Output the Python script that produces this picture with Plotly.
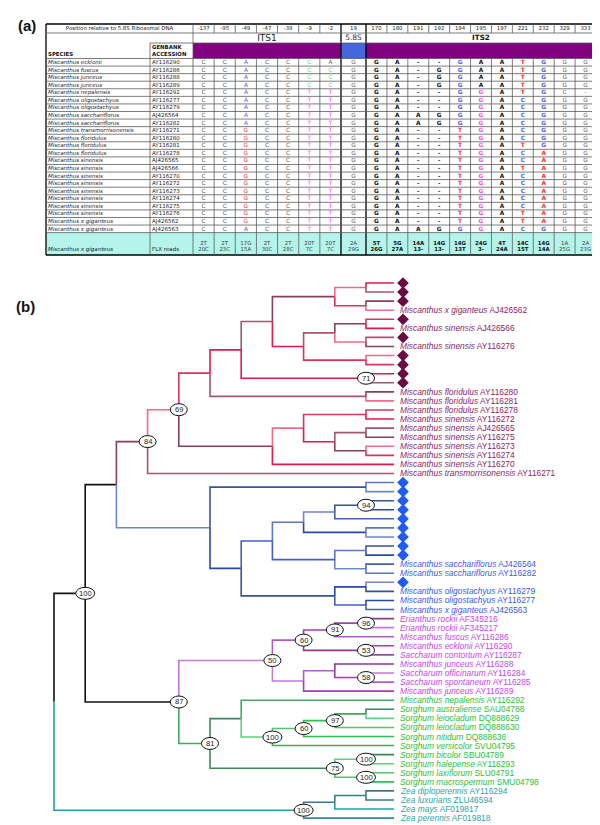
import plotly.graph_objects as go

# ================= Panel (a): table data =================
positions = ["-137", "-95", "-49", "-47", "-39", "-9", "-2", "19",
             "170", "180", "191", "192", "194", "195", "197", "221", "232", "329", "333"]
region_names = ["ITS1", "5.8S", "ITS2"]
region_ncols = [7, 1, 11]
species = ["Miscanthus ecklonii", "Miscanthus fuscus", "Miscanthus junceus", "Miscanthus junceus",
           "Miscanthus nepalensis", "Miscanthus oligostachyus", "Miscanthus oligostachyus",
           "Miscanthus sacchariflorus", "Miscanthus sacchariflorus", "Miscanthus transmorrisonensis",
           "Miscanthus floridulus", "Miscanthus floridulus", "Miscanthus floridulus",
           "Miscanthus sinensis", "Miscanthus sinensis", "Miscanthus sinensis", "Miscanthus sinensis",
           "Miscanthus sinensis", "Miscanthus sinensis", "Miscanthus sinensis", "Miscanthus sinensis",
           "Miscanthus x giganteus", "Miscanthus x giganteus"]
accessions = ["AY116290", "AY116286", "AY116288", "AY116289", "AY116292", "AY116277", "AY116279",
              "AJ426564", "AY116282", "AY116271", "AY116280", "AY116281", "AY116278", "AJ426565",
              "AJ426566", "AY116270", "AY116272", "AY116273", "AY116274", "AY116275", "AY116276",
              "AJ426562", "AJ426563"]
bases = ["CCACCCAGGA--GAATGGG",
         "CCACCCCGGA-GGAATGGG",
         "CCACCCCGGA-GGAATGGG",
         "CCACCCCGGA-GGAATGGG",
         "CCACCTTGGA--GGATGC-",
         "CCACCTTGGA--GGACGGG",
         "CCACCTTGGA--GGACGGG",
         "CCACCTTGGAAGGGACGGG",
         "CCACCTTGGAAGGGACGGG",
         "CCGCCTTGGA--TGACGGG",
         "CCGCCTTGGA--TGACGGG",
         "CCGCCTTGGA--TGATGGG",
         "CCGCCTTGGA--TGACAGG",
         "CCGCCTTGGA--TGACAGG",
         "CCGCCTTGGA--TGATAGG",
         "CCGCCTTGGA--TGACAGG",
         "CCGCCTTGGA--TGACAGG",
         "CCGCCTTGGA--TGACAGG",
         "CCGCCTTGGA--TGACAGG",
         "CCGCCTTGGA--TGACAGG",
         "CCGCCTTGGA--TGATAGG",
         "CCGCCTTGGA--TGATAGG",
         "CCACCTTGGAAGGGACGGG"]
flx_species = "Miscanthus x giganteus"
flx_label = "FLX reads"
flx_top = ["2T", "2T", "17G", "2T", "2T", "20T", "20T", "2A", "5T", "5G", "14A", "14G",
           "14G", "24G", "4T", "14C", "14G", "1A", "2A"]
flx_bottom = ["20C", "23C", "15A", "30C", "28C", "7C", "7C", "29G", "26G", "27A", "13-", "13-",
              "13T", "3-", "24A", "15T", "14A", "25G", "23G"]

# ================= Panel (b): tree data =================
leaf_species = ["", "", "", "Miscanthus x giganteus", "", "Miscanthus sinensis", "", "Miscanthus sinensis",
                "", "", "", "", "Miscanthus floridulus", "Miscanthus floridulus", "Miscanthus floridulus",
                "Miscanthus sinensis", "Miscanthus sinensis", "Miscanthus sinensis", "Miscanthus sinensis",
                "Miscanthus sinensis", "Miscanthus sinensis", "Miscanthus transmorrisonensis",
                "", "", "", "", "", "", "", "", "",
                "Miscanthus sacchariflorus", "Miscanthus sacchariflorus", "",
                "Miscanthus oligostachyus", "Miscanthus oligostachyus", "Miscanthus x giganteus",
                "Erianthus rockii", "Erianthus rockii", "Miscanthus fuscus", "Miscanthus ecklonii",
                "Saccharum contortum", "Miscanthus junceus", "Saccharum officinarum",
                "Saccharum spontaneum", "Miscanthus junceus",
                "Miscanthus nepalensis", "Sorghum australiense", "Sorghum leiocladum", "Sorghum leiocladum",
                "Sorghum nitidum", "Sorghum versicolor", "Sorghum bicolor", "Sorghum halepense",
                "Sorghum laxiflorum", "Sorghum macrospermum",
                "Zea diploperennis", "Zea luxurians", "Zea mays", "Zea perennis"]
leaf_accessions = ["", "", "", "AJ426562", "", "AJ426566", "", "AY116276",
                   "", "", "", "", "AY116280", "AY116281", "AY116278",
                   "AY116272", "AJ426565", "AY116275", "AY116273", "AY116274", "AY116270", "AY116271",
                   "", "", "", "", "", "", "", "", "",
                   "AJ426564", "AY116282", "", "AY116279", "AY116277", "AJ426563",
                   "AF345216", "AF345217", "AY116286", "AY116290", "AY116287", "AY116288", "AY116284",
                   "AY116285", "AY116289",
                   "AY116292", "SAU04788", "DQ888629", "DQ888630", "DQ888636", "SVU04795", "SBU04789",
                   "AY116293", "SLU04791", "SMU04798",
                   "AY116294", "ZLU46594", "AF019817", "AF019818"]
leaf_clade = [0] * 22 + [1] * 15 + [2] * 9 + [3] * 10 + [4] * 4
leaf_parent = [9, 9, 10, 10, 13, 13, 14, 14, 15, 15, 16, 16, 17, 17, 20, 20, 22, 22, 23, 23, 18, 3,
               25, 25, 30, 30, 29, 31, 31, 33, 33, 34, 34, 36, 36, 37, 37,
               42, 42, 41, 43, 43, 45, 46, 46, 44,
               48, 52, 52, 51, 50, 49, 54, 54, 55, 55,
               58, 58, 57, 56]
node_parent = [-1, 0, 1, 2, 3, 4, 5, 6, 7, 8, 8, 7, 11, 12, 12, 11, 6, 5, 4, 18, 19, 19, 21, 21,
               2, 24, 24, 26, 27, 28, 29, 28, 27, 32, 32, 26, 35, 35,
               1, 38, 39, 40, 41, 40, 39, 44, 45, 38, 47, 48, 49, 50, 51, 47, 53, 53,
               0, 56, 57]
node_level = [0, 1, 2, 3, 4, 5, 6, 7, 9, 10, 10, 8, 9, 10, 10, 10, 10, 10, 7, 8, 10, 9, 10, 10,
              5, 10, 6, 7, 8, 9, 10, 10, 9, 10, 10, 9, 10, 10,
              4, 7, 8, 9, 10, 10, 8, 9, 10, 5, 6, 7, 8, 9, 10, 9, 10, 10,
              8, 9, 10]
node_support = [None, 100, None, 84, 69, None, None, None, None, None, None, None, None, None, None,
                None, 71, None, None, None, None, None, None, None,
                None, None, None, None, None, None, 94, None, None, None, None, None, None, None,
                87, 50, 60, 91, 96, 53, None, None, 58, 81, None, 100, 60, 97, None, 75, 100, 100,
                100, None, None]

# ================= styles / geometry =================
W, H = 600, 825
TFONT = "DejaVu Sans"
LFONT = "Liberation Sans, Arial, sans-serif"
GRAY, BLUE, RED, GREEN, MAG, BLK = "#5a5a5a", "#4a5cff", "#ff2e2e", "#5fd85f", "#ff48ff", "#111111"
col_colors = {2: {"A": BLUE, "G": RED}, 5: {"C": GREEN, "T": MAG}, 6: {"C": GREEN, "T": MAG},
              12: {"G": BLUE, "T": RED}, 13: {"G": MAG}, 15: {"T": RED, "C": BLUE},
              16: {"G": BLUE, "A": RED}}
bold_cols = set(range(8, 17))
PURPLE, BLUE58, CYAN = "#800080", "#4567dc", "#b4f4ea"

T_LEFT, T_RIGHT, SP_RIGHT, ACC_RIGHT = 38, 588, 142, 185
ITS1_RIGHT, S58_RIGHT = 333, 358
Y_TOP, Y_R1, Y_R2, Y_R3 = 16, 25, 35, 50.5
ROW_H = 7.57
Y_FLX = Y_R3 + len(species) * ROW_H
Y_BOT = 247

col_w = ([(ITS1_RIGHT - ACC_RIGHT) / region_ncols[0]] * region_ncols[0]
         + [S58_RIGHT - ITS1_RIGHT]
         + [(T_RIGHT - S58_RIGHT) / region_ncols[2]] * region_ncols[2])
edges = [ACC_RIGHT]
for w in col_w:
    edges.append(edges[-1] + w)
centers = [(edges[i] + edges[i + 1]) / 2 for i in range(len(col_w))]

fig = go.Figure()
shapes = []
annotations = []

# fills
reg_start = 0
for name, n, colr in zip(region_names, region_ncols, [PURPLE, BLUE58, PURPLE]):
    shapes.append(dict(type="rect", xref="x", yref="y", x0=edges[reg_start], x1=edges[reg_start + n],
                       y0=Y_R2, y1=Y_R3, fillcolor=colr, line_width=0, layer="below"))
    reg_start += n
shapes.append(dict(type="rect", xref="x", yref="y", x0=T_LEFT, x1=T_RIGHT, y0=Y_FLX, y1=Y_BOT,
                   fillcolor=CYAN, line_width=0, layer="below"))

# grid lines
segs = {}
def seg(x0, y0, x1, y1, style):
    segs.setdefault(style, [[], []])
    segs[style][0] += [x0, x1, None]
    segs[style][1] += [y0, y1, None]

THIN = ("#5c5c5c", 0.8)
THICK = ("#000000", 1.3)
seg(T_LEFT, Y_TOP, T_RIGHT, Y_TOP, THICK)
seg(T_LEFT, Y_R1, T_RIGHT, Y_R1, THIN)
seg(SP_RIGHT, Y_R2, T_RIGHT, Y_R2, THIN)
seg(T_LEFT, Y_R3, T_RIGHT, Y_R3, THIN)
for r in range(1, len(species) + 1):
    seg(T_LEFT, Y_R3 + r * ROW_H, T_RIGHT, Y_R3 + r * ROW_H, THIN)
seg(T_LEFT, Y_BOT, T_RIGHT, Y_BOT, THICK)
seg(T_LEFT, Y_TOP, T_LEFT, Y_BOT, THICK)
seg(T_RIGHT, Y_TOP, T_RIGHT, Y_BOT, THICK)
seg(SP_RIGHT, Y_R2, SP_RIGHT, Y_BOT, THIN)
seg(ACC_RIGHT, Y_TOP, ACC_RIGHT, Y_BOT, THIN)
for e in edges[1:-1]:
    if abs(e - ITS1_RIGHT) < 0.5 or abs(e - S58_RIGHT) < 0.5:
        seg(e, Y_TOP, e, Y_BOT, THICK)
    else:
        seg(e, Y_TOP, e, Y_R1, THIN)
        seg(e, Y_R3, e, Y_BOT, THIN)
for (colr, wid), (xs, ys) in segs.items():
    fig.add_trace(go.Scatter(x=xs, y=ys, mode="lines", line=dict(color=colr, width=wid),
                             hoverinfo="skip", showlegend=False))

# table text helper
def add_text(xs, ys, texts, colors, size, weight="normal", style="normal", pos="middle center"):
    fig.add_trace(go.Scatter(x=xs, y=ys, text=texts, mode="text", textposition=pos,
                             textfont=dict(family=TFONT, size=size, color=colors, weight=weight, style=style),
                             hoverinfo="skip", showlegend=False, cliponaxis=False))

# header row 1
add_text([(T_LEFT + ACC_RIGHT) / 2], [(Y_TOP + Y_R1) / 2 + 0.5], ["Position relative to 5.8S Ribosomal DNA"],
         ["#222"], 5.4)
add_text(centers, [(Y_TOP + Y_R1) / 2 + 0.5] * len(centers), positions, ["#222"] * len(centers), 5.4)
# header row 2
reg_start = 0
for name, n in zip(region_names, region_ncols):
    cx = (edges[reg_start] + edges[reg_start + n]) / 2
    if name == "ITS1":
        add_text([cx], [(Y_R1 + Y_R2) / 2 + 0.5], [name], ["#222"], 9)
    elif name == "5.8S":
        add_text([cx], [(Y_R1 + Y_R2) / 2 + 0.5], [name], ["#333"], 7.5)
    else:
        add_text([cx], [(Y_R1 + Y_R2) / 2 + 0.5], [name], ["#111"], 7.2, weight="bold")
    reg_start += n
# header row 3
add_text([T_LEFT + 2], [Y_R3 - 4], ["SPECIES"], ["#111"], 5.4, weight="bold", pos="middle right")
add_text([SP_RIGHT + 2, SP_RIGHT + 2], [Y_R2 + 4.5, Y_R3 - 4], ["GENBANK", "ACCESSION"], ["#111", "#111"],
         5.4, weight="bold", pos="middle right")

# data rows
row_y = [Y_R3 + (r + 0.5) * ROW_H + 0.3 for r in range(len(species))]
add_text([T_LEFT + 2] * len(species), row_y, species, ["#222"] * len(species), 5.5, style="italic",
         pos="middle right")
add_text([SP_RIGHT + 2] * len(species), row_y, accessions, ["#222"] * len(species), 5.5, pos="middle right")
nx, ny, nt, nc = [], [], [], []
bx, by, bt, bc = [], [], [], []
for r, s in enumerate(bases):
    for c, ch in enumerate(s):
        colr = col_colors.get(c, {}).get(ch, BLK if c in bold_cols else GRAY)
        if c in bold_cols:
            bx.append(centers[c]); by.append(row_y[r]); bt.append(ch); bc.append(colr)
        else:
            nx.append(centers[c]); ny.append(row_y[r]); nt.append(ch); nc.append(colr)
add_text(nx, ny, nt, nc, 5.8)
add_text(bx, by, bt, bc, 5.8, weight="bold")

# FLX row
fy1, fy2 = Y_BOT - 11, Y_BOT - 5
add_text([T_LEFT + 2], [fy2], [flx_species], ["#222"], 5.5, style="italic", pos="middle right")
add_text([SP_RIGHT + 2], [fy2], [flx_label], ["#222"], 5.5, pos="middle right")
for c in range(len(positions)):
    wgt = "bold" if c in bold_cols else "normal"
    colr = "#111" if c in bold_cols else "#444"
    add_text([centers[c], centers[c]], [fy1, fy2], [flx_top[c], flx_bottom[c]], [colr, colr], 5.4, weight=wgt)

# ================= tree =================
TREE_X0, LEVEL_PX = 46, 31.2
LEAF_Y0, LEAF_PX = 275, 9.07
TIP_LEVEL = 10.9
DIAMOND_LEVEL = (395 - TREE_X0) / LEVEL_PX
LABEL_LEVEL = (391 - TREE_X0) / LEVEL_PX

n_nodes = len(node_parent)
children = [[] for _ in range(n_nodes)]
for i, p in enumerate(node_parent):
    if p >= 0:
        children[p].append(("n", i))
for j, p in enumerate(leaf_parent):
    children[p].append(("l", j))

node_y = [None] * n_nodes
node_leaves = [None] * n_nodes
def solve(i):
    ys, lv = [], []
    for kind, k in children[i]:
        if kind == "l":
            ys.append(k); lv.append(k)
        else:
            solve(k); ys.append(node_y[k]); lv += node_leaves[k]
    node_y[i] = (min(ys) + max(ys)) / 2
    node_leaves[i] = lv
solve(0)

branch_pal = [["#e01a4b", "#86405f", "#d9345e", "#a5566f", "#ec6d89"],
              ["#2b48a6", "#5b78c6", "#3a5494", "#4660b8", "#6f86c8"],
              ["#a23db4", "#8c3a8e", "#b45ac6", "#9a4aa4", "#c27ad6"],
              ["#2fbf4f", "#3b8a5c", "#4fc86c", "#44a860", "#5fd17a"],
              ["#25a2a6", "#3a7d84", "#2b9098", "#3a7d84", "#25a2a6"]]
label_col = ["#8e2564", "#3a5af2", "#c648e8", "#2bbf3a", "#2ba6a6"]
diamond_col = ["#6b0a40", "#1f5cf5", "#c648e8", "#2bbf3a", "#2ba6a6"]

def color_of(kind, k):
    clades = {leaf_clade[k]} if kind == "l" else {leaf_clade[j] for j in node_leaves[k]}
    if len(clades) > 1:
        return "#111111"
    cl = clades.pop()
    pal = branch_pal[cl]
    return pal[(k * 3 + (2 if kind == "n" else 0)) % len(pal)]

tsegs = {}
for p in range(n_nodes):
    for kind, k in children[p]:
        cy = k if kind == "l" else node_y[k]
        cx = TIP_LEVEL if kind == "l" else node_level[k]
        colr = color_of(kind, k)
        tsegs.setdefault(colr, [[], []])
        tsegs[colr][0] += [node_level[p], node_level[p], cx, None]
        tsegs[colr][1] += [node_y[p], cy, cy, None]
for colr, (xs, ys) in tsegs.items():
    fig.add_trace(go.Scatter(x=xs, y=ys, mode="lines", xaxis="x2", yaxis="y2",
                             line=dict(color=colr, width=1.6), hoverinfo="skip", showlegend=False))

# diamonds
dy = [j for j in range(len(leaf_species)) if leaf_species[j] == ""]
dx = [DIAMOND_LEVEL] * len(dy)
dc = [diamond_col[leaf_clade[j]] for j in dy]
fig.add_trace(go.Scatter(x=dx, y=dy, mode="markers", xaxis="x2", yaxis="y2",
                         marker=dict(symbol="diamond", size=9, color=dc, line_width=0),
                         hoverinfo="skip", showlegend=False, cliponaxis=False))

# leaf labels
for j, (sp, acc) in enumerate(zip(leaf_species, leaf_accessions)):
    if sp:
        annotations.append(dict(xref="x2", yref="y2", x=LABEL_LEVEL, y=j, xanchor="left", yanchor="middle",
                                text=f"<i>{sp}</i> {acc}", showarrow=False, borderpad=0,
                                font=dict(family=LFONT, size=8.4, color=label_col[leaf_clade[j]])))

# bootstrap ovals
for i, s in enumerate(node_support):
    if s is None:
        continue
    w = 19 if s >= 100 else 17
    shapes.append(dict(type="circle", xref="x2", yref="y2", xsizemode="pixel", ysizemode="pixel",
                       xanchor=node_level[i], yanchor=node_y[i], x0=-w / 2, x1=w / 2, y0=-6, y1=6,
                       fillcolor="white", line=dict(color="#111", width=1)))
    annotations.append(dict(xref="x2", yref="y2", x=node_level[i], y=node_y[i], text=str(s),
                            showarrow=False, font=dict(family=LFONT, size=7.6, color="#222"),
                            xanchor="center", yanchor="middle"))

# panel labels
annotations.append(dict(xref="x", yref="y", x=8, y=17, text="<b>(a)</b>", showarrow=False, xanchor="left",
                        font=dict(family=LFONT, size=15, color="#111")))
annotations.append(dict(xref="x", yref="y", x=6, y=298, text="<b>(b)</b>", showarrow=False, xanchor="left",
                        font=dict(family=LFONT, size=15, color="#111")))

fig.update_layout(
    width=W, height=H, margin=dict(l=0, r=0, t=0, b=0),
    paper_bgcolor="white", plot_bgcolor="white", showlegend=False, hovermode=False,
    xaxis=dict(domain=[0, 1], range=[0, W], visible=False, fixedrange=True),
    yaxis=dict(domain=[0, 1], range=[H, 0], visible=False, fixedrange=True),
    xaxis2=dict(domain=[0, 1], anchor="y2", overlaying="x",
                range=[-TREE_X0 / LEVEL_PX, (W - TREE_X0) / LEVEL_PX], visible=False, fixedrange=True),
    yaxis2=dict(domain=[0, 1], anchor="x2", overlaying="y",
                range=[(H - LEAF_Y0) / LEAF_PX, -LEAF_Y0 / LEAF_PX], visible=False, fixedrange=True),
    shapes=shapes, annotations=annotations,
)
fig.write_html("out.html")
